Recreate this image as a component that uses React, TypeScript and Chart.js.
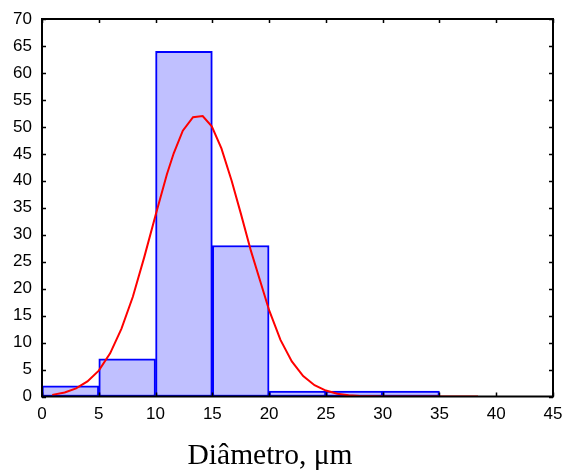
import React, { useEffect, useRef } from "react";
import { Chart, registerables } from "chart.js";

Chart.register(...registerables);

const binCenters = [2.5, 7.5, 12.5, 17.5, 22.5, 27.5, 32.5];
const binCounts = [2, 7, 64, 28, 1, 1, 1];

const curveX = [0.9, 2, 3, 4, 5, 6, 7, 8, 9, 10, 11, 11.6, 12.4, 13.3, 14.15, 14.95, 15.8, 16.7, 17.5, 18.4, 19.2, 20, 21, 22, 23, 24, 25, 26, 27, 28, 29, 30, 32, 34, 36, 38.4];
const curveY = [0.3, 0.75, 1.5, 2.8, 4.8, 8.0, 12.6, 18.5, 25.8, 33.6, 41.2, 45.1, 49.3, 51.8, 52.0, 50.1, 46.0, 40.0, 34.0, 27.0, 21.5, 16.0, 10.5, 6.5, 3.8, 2.1, 1.1, 0.5, 0.22, 0.1, 0.04, 0.02, 0, 0, 0, 0];

const xTicks = [0, 5, 10, 15, 20, 25, 30, 35, 40, 45];
const yTicks = [0, 5, 10, 15, 20, 25, 30, 35, 40, 45, 50, 55, 60, 65, 70];

const xTitle = "Diâmetro, μm";

const framePlugin = {
  id: "frame",
  afterDatasetsDraw(chart: any) {
    const { ctx, chartArea } = chart;
    const xs = chart.scales.x;
    const ys = chart.scales.y;
    const { left, right, top, bottom } = chartArea;
    ctx.save();
    ctx.strokeStyle = "#000";
    ctx.lineWidth = 2;
    ctx.strokeRect(left, top, right - left, bottom - top);
    ctx.lineWidth = 1.5;
    const tl = 4;
    ctx.beginPath();
    xTicks.forEach((v) => {
      const px = Math.round(xs.getPixelForValue(v)) + 0.5;
      ctx.moveTo(px, bottom);
      ctx.lineTo(px, bottom - tl);
      ctx.moveTo(px, top);
      ctx.lineTo(px, top + tl);
    });
    yTicks.forEach((v) => {
      const py = Math.round(ys.getPixelForValue(v)) + 0.5;
      ctx.moveTo(left, py);
      ctx.lineTo(left + tl, py);
      ctx.moveTo(right, py);
      ctx.lineTo(right - tl, py);
    });
    ctx.stroke();
    ctx.fillStyle = "#000";
    ctx.font = "29.5px 'Liberation Serif', 'Times New Roman', serif";
    ctx.textAlign = "center";
    ctx.textBaseline = "alphabetic";
    ctx.fillText(xTitle, 270, 464);
    ctx.restore();
  },
};

export default function App() {
  const ref = useRef<HTMLCanvasElement>(null);
  useEffect(() => {
    if (!ref.current) return;
    const chart = new Chart(ref.current, {
      type: "bar",
      data: {
        datasets: [
          {
            type: "line",
            data: curveX.map((x, i) => ({ x, y: curveY[i] })),
            borderColor: "#ff0000",
            borderWidth: 2,
            pointRadius: 0,
            tension: 0,
            fill: false,
            order: 0,
          } as any,
          {
            type: "bar",
            data: binCenters.map((x, i) => ({ x, y: binCounts[i] })),
            backgroundColor: "#c0c0ff",
            borderColor: "#0000ff",
            borderWidth: 2,
            borderSkipped: false,
            barPercentage: 1,
            categoryPercentage: 1,
            order: 1,
          } as any,
        ],
      },
      options: {
        responsive: false,
        animation: false,
        layout: { padding: { left: 0, top: 19, right: 13, bottom: 0 } },
        plugins: { legend: { display: false }, tooltip: { enabled: false } },
        scales: {
          x: {
            type: "linear",
            min: 0,
            max: 45,
            offset: false,
            grid: { display: false, drawTicks: false, offset: false },
            border: { display: false },
            ticks: {
              stepSize: 5,
              padding: 8,
              color: "#000",
              font: { family: "'Liberation Sans', Arial, sans-serif", size: 17 },
              maxRotation: 0,
            },
            afterFit: (s: any) => {
              s.height = 78.5;
              s.paddingLeft = 0;
              s.paddingRight = 0;
            },
          },
          y: {
            type: "linear",
            min: 0,
            max: 70,
            grid: { display: false, drawTicks: false },
            border: { display: false },
            ticks: {
              stepSize: 5,
              padding: 10,
              color: "#000",
              font: { family: "'Liberation Sans', Arial, sans-serif", size: 17 },
            },
            afterFit: (s: any) => {
              s.width = 42;
              s.paddingTop = 0;
              s.paddingBottom = 0;
            },
          },
        },
      },
      plugins: [framePlugin],
    });
    return () => chart.destroy();
  }, []);
  return (
    <div style={{ position: "absolute", left: 0, top: 0, width: 566, height: 475, background: "#fff" }}>
      <canvas ref={ref} width={566} height={475} style={{ display: "block" }} />
    </div>
  );
}
